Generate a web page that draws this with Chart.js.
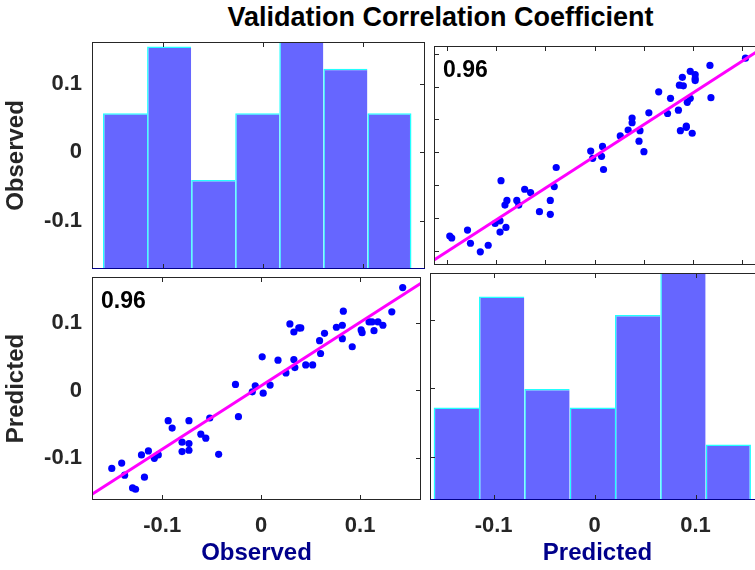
<!DOCTYPE html>
<html lang="en">
<head>
  <meta charset="UTF-8">
  <title>Validation Correlation Coefficient</title>
  <script src="https://cdn.jsdelivr.net/npm/chart.js"></script>
  <style>
    body { margin: 0; width: 755px; height: 570px; overflow: hidden; position: relative; background: #fff;
           font-family: "Liberation Sans", Arial, sans-serif; }
    .title { position: absolute; left: 0; top: 4px; width: 881px; text-align: center;
             font-weight: bold; font-size: 27px; line-height: 27px; color: #000; }
    canvas { position: absolute; }
  </style>
</head>
<body>

<div class="title">Validation Correlation Coefficient</div>

<!-- 2x2 panels: histograms on the diagonal, scatter + fit off it -->
<canvas id="tl" width="425" height="227" style="left:0;top:42px"></canvas>
<canvas id="tr" width="335" height="227" style="left:430px;top:42px"></canvas>
<canvas id="bl" width="425" height="297" style="left:0;top:273px"></canvas>
<canvas id="br" width="335" height="297" style="left:430px;top:273px"></canvas>

<script>
// data
const observed = [-0.151, -0.141, -0.138, -0.130, -0.127, -0.121, -0.118, -0.114, -0.108, -0.104,
                  -0.094, -0.090, -0.080, -0.080, -0.073, -0.073, -0.073, -0.061, -0.056, -0.052,
                  -0.043, -0.026, -0.023, -0.009, -0.006, 0.001, 0.002, 0.009, 0.017, 0.025,
                  0.029, 0.033, 0.033, 0.034, 0.038, 0.040, 0.045, 0.052, 0.059, 0.060,
                  0.064, 0.076, 0.082, 0.082, 0.083, 0.092, 0.101, 0.102, 0.109, 0.112,
                  0.114, 0.118, 0.123, 0.132, 0.143];
const predicted = [-0.116, -0.108, -0.126, -0.145, -0.147, -0.096, -0.129, -0.090, -0.101, -0.096,
                   -0.045, -0.056, -0.077, -0.091, -0.079, -0.089, -0.045, -0.065, -0.071, -0.041,
                   -0.095, 0.009, -0.039, -0.002, 0.007, 0.050, -0.004, 0.008, 0.045, 0.026,
                   0.099, 0.087, 0.046, 0.034, 0.093, 0.093, 0.038, 0.038, 0.074, 0.055,
                   0.085, 0.094, 0.097, 0.077, 0.118, 0.065, 0.090, 0.086, 0.102, 0.102,
                   0.089, 0.102, 0.097, 0.117, 0.153];

const obsEdges = [-0.160, -0.116, -0.072, -0.028, 0.016, 0.060, 0.104, 0.148];
const obsCounts = [7, 10, 4, 7, 11, 9, 7];
const predEdges = [-0.1594, -0.1145, -0.0696, -0.0247, 0.0202, 0.0651, 0.1100, 0.1549];
const predCounts = [5, 11, 6, 5, 10, 15, 3];

const obsLimits = [-0.171, 0.1615];
const predLimits = [-0.163, 0.1688];
const obsCountMax = 10.2;
const predCountMax = 12.27;

const fitPredOnObs = [0.945, 0.007];   // slope, intercept
const fitObsOnPred = [0.965, -0.006];
const corrText = '0.96';

const tickValues = [-0.1, 0, 0.1];
const tickLabels = ['-0.1', '0', '0.1'];
const fineTicks = [-0.15, -0.1, -0.05, 0, 0.05, 0.1, 0.15];

Chart.defaults.font.family = '"Liberation Sans", Arial, sans-serif';

const histData = (edges, counts) => counts.map((c, i) => ({ x: (edges[i] + edges[i + 1]) / 2, y: c }));
const pairs = (xs, ys) => xs.map((x, i) => ({ x: x, y: ys[i] }));
const fitLine = (lim, fit) => lim.map(x => ({ x: x, y: fit[0] * x + fit[1] }));

// frame, inward tick marks and the r value
const panelDecor = {
  id: 'panelDecor',
  afterDraw(chart, args, opts) {
    const ctx = chart.ctx, a = chart.chartArea;
    ctx.save();
    ctx.lineWidth = 1;
    ctx.strokeStyle = '#262626';
    (opts.marks || []).forEach(m => {
      const sc = chart.scales[m.scale];
      m.values.forEach(v => {
        const p = Math.round(sc.getPixelForValue(v)) + 0.5;
        ctx.beginPath();
        if (m.side === 'top') { ctx.moveTo(p, a.top); ctx.lineTo(p, a.top + 5); }
        if (m.side === 'bottom') { ctx.moveTo(p, a.bottom); ctx.lineTo(p, a.bottom - 5); }
        if (m.side === 'left') { ctx.moveTo(a.left, p); ctx.lineTo(a.left + 5, p); }
        if (m.side === 'right') { ctx.moveTo(a.right, p); ctx.lineTo(a.right - 5, p); }
        ctx.stroke();
      });
    });
    ctx.strokeRect(a.left + 0.5, a.top + 0.5, a.right - a.left - 1, a.bottom - a.top - 1);
    if (opts.base) {
      ctx.strokeStyle = opts.base;
      ctx.beginPath();
      ctx.moveTo(a.left, a.bottom - 0.5);
      ctx.lineTo(a.right, a.bottom - 0.5);
      ctx.stroke();
    }
    if (opts.label) {
      ctx.fillStyle = '#000';
      ctx.font = 'bold 23px "Liberation Sans", Arial, sans-serif';
      ctx.textBaseline = 'alphabetic';
      ctx.fillText(opts.label, a.left + 9, a.top + 31);
    }
    ctx.restore();
  }
};

function hiddenAxis(lim) {
  return { type: 'linear', display: false, min: lim[0], max: lim[1], offset: false, grid: { offset: false } };
}

function labelAxis(lim, pos, name, nameColor) {
  const horiz = pos === 'bottom';
  return {
    type: 'linear', position: pos, min: lim[0], max: lim[1], offset: false,
    afterBuildTicks: s => { s.ticks = tickValues.map(v => ({ value: v })); },
    afterFit: s => {
      if (horiz) s.height = 70; else s.width = 92;
      s.paddingLeft = s.paddingRight = s.paddingTop = s.paddingBottom = 0;
    },
    grid: { display: false, drawTicks: false, offset: false },
    border: { display: false },
    ticks: {
      padding: horiz ? 13 : 10, maxRotation: 0, autoSkip: false, color: '#262626',
      font: { size: 22, weight: 'bold' },
      callback: (v, i) => tickLabels[i]
    },
    title: {
      display: true, text: name, color: nameColor,
      font: { size: 24, weight: 'bold' },
      padding: horiz ? { top: 0, bottom: 2 } : { top: 2, bottom: 0 }
    }
  };
}

const baseOptions = {
  responsive: false,
  animation: false,
  events: [],
  layout: { padding: 0 },
  plugins: { legend: { display: false }, tooltip: { enabled: false } }
};

function histDataset(edges, counts) {
  const n = counts.length;
  return {
    type: 'bar',
    data: histData(edges, counts),
    backgroundColor: '#6666ff',
    borderColor: '#22ffff',
    borderWidth: c => ({ left: 1.5, top: 1.5, right: c.dataIndex === n - 1 ? 1.5 : 0, bottom: 0 }),
    inflateAmount: 0,
    barPercentage: 1,
    categoryPercentage: 1,
    clip: 0
  };
}

function scatterDatasets(pts, line) {
  return [
    { data: line, showLine: true, borderColor: '#ff00ff', borderWidth: 3, pointRadius: 0, order: 0 },
    { data: pts, backgroundColor: '#0000ff', borderWidth: 0, pointRadius: 3.6, order: 1 }
  ];
}

// top-left: Observed histogram
new Chart(document.getElementById('tl'), {
  type: 'bar',
  data: { datasets: [histDataset(obsEdges, obsCounts)] },
  options: Object.assign({}, baseOptions, {
    scales: {
      x: hiddenAxis(obsLimits),
      y: hiddenAxis([0, obsCountMax]),
      yv: labelAxis(obsLimits, 'left', 'Observed', '#262626')
    },
    plugins: Object.assign({}, baseOptions.plugins, {
      panelDecor: {
        base: '#00008b',
        marks: [
          { scale: 'x', side: 'top', values: tickValues },
          { scale: 'x', side: 'bottom', values: tickValues },
          { scale: 'yv', side: 'right', values: tickValues }
        ]
      }
    })
  }),
  plugins: [panelDecor]
});

// top-right: Observed vs Predicted
new Chart(document.getElementById('tr'), {
  type: 'scatter',
  data: { datasets: scatterDatasets(pairs(predicted, observed), fitLine(predLimits, fitObsOnPred)) },
  options: Object.assign({}, baseOptions, {
    scales: { x: hiddenAxis(predLimits), y: hiddenAxis(obsLimits) },
    plugins: Object.assign({}, baseOptions.plugins, {
      panelDecor: {
        label: corrText,
        marks: [
          { scale: 'x', side: 'top', values: fineTicks },
          { scale: 'x', side: 'bottom', values: fineTicks },
          { scale: 'y', side: 'left', values: fineTicks }
        ]
      }
    })
  }),
  plugins: [panelDecor]
});

// bottom-left: Predicted vs Observed
new Chart(document.getElementById('bl'), {
  type: 'scatter',
  data: { datasets: scatterDatasets(pairs(observed, predicted), fitLine(obsLimits, fitPredOnObs)) },
  options: Object.assign({}, baseOptions, {
    scales: {
      x: labelAxis(obsLimits, 'bottom', 'Observed', '#00008b'),
      y: labelAxis(predLimits, 'left', 'Predicted', '#262626')
    },
    plugins: Object.assign({}, baseOptions.plugins, {
      panelDecor: {
        label: corrText,
        marks: [
          { scale: 'x', side: 'top', values: tickValues },
          { scale: 'x', side: 'bottom', values: tickValues },
          { scale: 'y', side: 'right', values: tickValues }
        ]
      }
    })
  }),
  plugins: [panelDecor]
});

// bottom-right: Predicted histogram
new Chart(document.getElementById('br'), {
  type: 'bar',
  data: { datasets: [histDataset(predEdges, predCounts)] },
  options: Object.assign({}, baseOptions, {
    scales: {
      x: labelAxis(predLimits, 'bottom', 'Predicted', '#00008b'),
      y: hiddenAxis([0, predCountMax]),
      yv: hiddenAxis(predLimits)
    },
    plugins: Object.assign({}, baseOptions.plugins, {
      panelDecor: {
        base: '#00008b',
        marks: [
          { scale: 'x', side: 'top', values: tickValues },
          { scale: 'x', side: 'bottom', values: tickValues },
          { scale: 'yv', side: 'left', values: tickValues }
        ]
      }
    })
  }),
  plugins: [panelDecor]
});
</script>

</body>
</html>
